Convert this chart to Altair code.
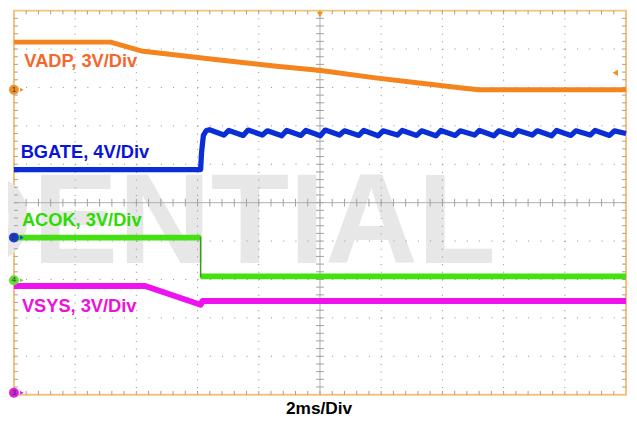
import altair as alt
import pandas as pd

# Time in ms (2 ms/div, 10 divisions); level in screen divisions (0 = bottom, 10 = top)
vadp_t = [0.0, 3.16, 4.16, 6.65, 8.58, 10.03, 11.81, 13.10, 14.71, 15.19, 20.0]
vadp_v = [9.18, 9.18, 8.95, 8.72, 8.55, 8.44, 8.25, 8.13, 7.98, 7.94, 7.94]

bgate_t = [0.0, 6.10, 6.13, 6.19, 6.29, 6.39,
           6.86, 7.02, 7.49, 7.65, 8.12, 8.28, 8.75, 8.91, 9.38, 9.54, 10.01,
           10.17, 10.64, 10.80, 11.27, 11.43, 11.90, 12.06, 12.53, 12.69,
           13.16, 13.32, 13.79, 13.95, 14.42, 14.58, 15.05, 15.21, 15.68,
           15.84, 16.31, 16.47, 16.94, 17.10, 17.57, 17.73, 18.20, 18.36,
           18.83, 18.99, 19.46, 19.62, 20.0]
bgate_v = [5.86, 5.86, 6.30, 6.75, 6.88, 6.90,
           6.76, 6.88, 6.75, 6.89, 6.76, 6.87, 6.74, 6.88, 6.75, 6.88, 6.74,
           6.89, 6.76, 6.87, 6.75, 6.88, 6.74, 6.87, 6.76, 6.88,
           6.75, 6.87, 6.74, 6.88, 6.75, 6.87, 6.76, 6.88, 6.74,
           6.87, 6.75, 6.88, 6.76, 6.87, 6.74, 6.88, 6.75, 6.87,
           6.76, 6.88, 6.75, 6.87, 6.80]

acok_hi_t = [0.0, 6.10]
acok_hi_v = [4.09, 4.09]
acok_lo_t = [6.10, 20.0]
acok_lo_v = [3.08, 3.08]

vsys_t = [0.0, 4.29, 6.10, 6.16, 20.0]
vsys_v = [2.83, 2.83, 2.34, 2.44, 2.44]

trace_names = ["VADP", "BGATE", "ACOK", "VSYS"]
trace_colors = ["#F5841F", "#0A2ED6", "#44E010", "#EE12EE"]
trace_widths = [5, 6, 5, 5]
label_texts = ["VADP, 3V/Div", "BGATE, 4V/Div", "ACOK, 3V/Div", "VSYS, 3V/Div"]
label_colors = ["#F4682E", "#0A14D8", "#2BDC00", "#EE10DC"]
marker_names = ["1", "2", "4", "3"]
marker_colors = ["#F0902A", "#1A3AD0", "#66DD33", "#E020E0"]
x_title = "2ms/Div"
watermark = "CONFIDENTIAL"

rows = []
def add(name, seg, ts, vs):
    for i, (t, v) in enumerate(zip(ts, vs)):
        rows.append({"trace": name, "seg": seg, "t": t, "v": v, "o": i})

add("VADP", "a", vadp_t, vadp_v)
add("BGATE", "a", bgate_t, bgate_v)
add("ACOK", "a", acok_hi_t, acok_hi_v)
add("ACOK", "b", acok_lo_t, acok_lo_v)
add("VSYS", "a", vsys_t, vsys_v)
traces = pd.DataFrame(rows)

XS = alt.Scale(domain=[0, 20], nice=False, zero=False)
YS = alt.Scale(domain=[0, 10], nice=False, zero=False)

def X(f="t"):
    return alt.X(f"{f}:Q", scale=XS, axis=None)

def Y(f="v"):
    return alt.Y(f"{f}:Q", scale=YS, axis=None)

# watermark
wm = alt.Chart(pd.DataFrame({"t": [15.75], "v": [3.44], "s": [watermark]})).mark_text(
    align="right", baseline="alphabetic", fontSize=130, font="Liberation Sans", fontWeight="bold",
    color="#E7E7E7").encode(x=X(), y=Y(), text="s:N")

# dotted grid
vgrid = alt.Chart(pd.DataFrame({"t": [2, 4, 6, 8, 12, 14, 16, 18], "v": [10] * 8, "v2": [0] * 8})).mark_rule(
    color="#8C8C8C", strokeWidth=1, strokeDash=[1, 6.78]).encode(x=X(), y=Y(), y2="v2:Q")
hgrid = alt.Chart(pd.DataFrame({"v": [1, 2, 3, 4, 6, 7, 8, 9], "t": [0] * 8, "t2": [20] * 8})).mark_rule(
    color="#8C8C8C", strokeWidth=1, strokeDash=[1, 11.4]).encode(y=Y(), x=X(), x2="t2:Q")

# centre cross
cross = alt.Chart(pd.DataFrame({"t": [10, 0], "t2": [10, 20], "v": [0, 5], "v2": [10, 5]})).mark_rule(
    color="#B0B0B0", strokeWidth=1).encode(x=X(), x2="t2:Q", y=Y(), y2="v2:Q")

# minor ticks (decoration)
tk = []
for k in range(1, 50):
    x = k * 0.4
    tk.append({"t": x, "t2": x, "v": 10, "v2": 9.9})
    tk.append({"t": x, "t2": x, "v": 0, "v2": 0.1})
    tk.append({"t": x, "t2": x, "v": 4.9, "v2": 5.1})
for k in range(1, 50):
    y = k * 0.2
    tk.append({"t": 0, "t2": 0.13, "v": y, "v2": y})
    tk.append({"t": 20, "t2": 19.87, "v": y, "v2": y})
    tk.append({"t": 9.87, "t2": 10.13, "v": y, "v2": y})
ticks = alt.Chart(pd.DataFrame(tk)).mark_rule(color="#A0A0A0", strokeWidth=1).encode(
    x=X(), x2="t2:Q", y=Y(), y2="v2:Q")

color = alt.Color("trace:N", scale=alt.Scale(domain=trace_names, range=trace_colors), legend=None)
width = alt.StrokeWidth("trace:N", scale=alt.Scale(domain=trace_names, range=trace_widths), legend=None)

lines = alt.Chart(traces).mark_line(strokeCap="butt", strokeJoin="round").encode(
    x=X(), y=Y(), color=color, strokeWidth=width, detail="seg:N", order="o:Q")

acok_edge = alt.Chart(pd.DataFrame({"t": [6.10], "v": [4.12], "v2": [3.05]})).mark_rule(
    color="#3A9A10", strokeWidth=1.5).encode(x=X(), y=Y(), y2="v2:Q")

labels = alt.Chart(pd.DataFrame({
    "t": [0.34, 0.22, 0.26, 0.26], "v": [8.535, 6.17, 4.40, 2.16],
    "s": label_texts, "c": label_colors})).mark_text(
    align="left", baseline="alphabetic", fontSize=18.5, fontWeight="bold",
    font="Liberation Sans").encode(x=X(), y=Y(), text="s:N", color=alt.Color("c:N", scale=None))

xtitle = alt.Chart(pd.DataFrame({"t": [9.97], "v": [-0.49], "s": [x_title]})).mark_text(
    align="center", baseline="alphabetic", fontSize=17.5, fontWeight="bold",
    font="Liberation Sans", color="#000000").encode(x=X(), y=Y(), text="s:N")

mk = pd.DataFrame({"t": [0.0] * 4, "ta": [0.26] * 4, "v": [7.94, 4.09, 2.98, 0.05],
                   "s": marker_names, "c": marker_colors})
mk_arrow = alt.Chart(mk).mark_point(shape="triangle-right", filled=True, size=18, opacity=1).encode(
    x=X("ta"), y=Y(), color=alt.Color("c:N", scale=None))
mk_circle = alt.Chart(mk).mark_circle(size=100, opacity=1).encode(
    x=X(), y=Y(), color=alt.Color("c:N", scale=None))
mk_text = alt.Chart(mk).mark_text(fontSize=8, font="Liberation Sans", color="#333333",
                                  baseline="middle", align="center").encode(x=X(), y=Y(), text="s:N")

trig = alt.Chart(pd.DataFrame({"t": [10.0, 19.65], "v": [9.90, 8.38],
                               "sh": ["triangle-down", "triangle-left"]})).mark_point(
    filled=True, size=40, color="#F5901F", opacity=1).encode(
    x=X(), y=Y(), shape=alt.Shape("sh:N", scale=None))

chart = alt.layer(wm, vgrid, hgrid, cross, ticks, lines, acok_edge, labels, xtitle,
                  mk_arrow, mk_circle, mk_text, trig).properties(
    width=620, height=389, autosize="none",
    padding={"left": 6, "top": 0, "right": 3, "bottom": 25}
).configure_view(stroke="#F3C27C", strokeWidth=2)

chart.save("out.html", embed_options={"renderer": "svg", "actions": False})
